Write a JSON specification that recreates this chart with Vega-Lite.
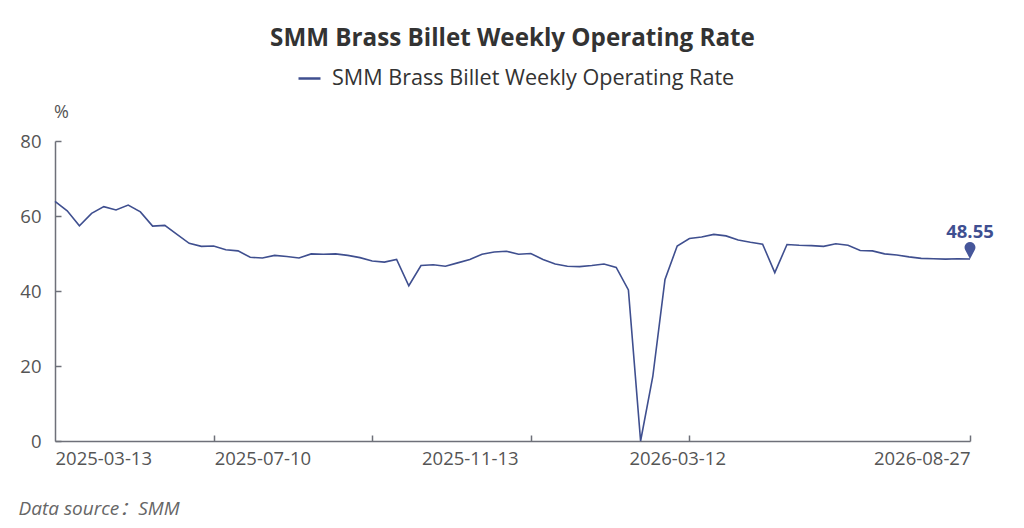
{
  "$schema": "https://vega.github.io/schema/vega-lite/v6.json",
  "width": 915,
  "height": 300,
  "autosize": {"type": "none"},
  "padding": {"left": 55, "top": 141, "right": 54, "bottom": 87},
  "background": "white",
  "config": {"font": "Open Sans", "view": {"stroke": null}},
  "title": {
    "text": "SMM Brass Billet Weekly Operating Rate",
    "fontSize": 24.2,
    "fontWeight": "bold",
    "color": "#333333",
    "anchor": "middle",
    "frame": "group",
    "offset": 15
  },
  "data": {
    "values": [
      {"date": "2025-03-13", "value": 63.9},
      {"date": "2025-03-20", "value": 61.4},
      {"date": "2025-03-27", "value": 57.4},
      {"date": "2025-04-03", "value": 60.7},
      {"date": "2025-04-10", "value": 62.5},
      {"date": "2025-04-17", "value": 61.6},
      {"date": "2025-04-24", "value": 62.9},
      {"date": "2025-05-01", "value": 61.1},
      {"date": "2025-05-08", "value": 57.3},
      {"date": "2025-05-15", "value": 57.5},
      {"date": "2025-05-22", "value": 55.1},
      {"date": "2025-05-29", "value": 52.7},
      {"date": "2025-06-05", "value": 51.9},
      {"date": "2025-06-12", "value": 52.0},
      {"date": "2025-06-19", "value": 51.0},
      {"date": "2025-06-26", "value": 50.7},
      {"date": "2025-07-03", "value": 49.0},
      {"date": "2025-07-10", "value": 48.8},
      {"date": "2025-07-17", "value": 49.5},
      {"date": "2025-07-24", "value": 49.2},
      {"date": "2025-07-31", "value": 48.8},
      {"date": "2025-08-07", "value": 49.9},
      {"date": "2025-08-14", "value": 49.8},
      {"date": "2025-08-21", "value": 49.9},
      {"date": "2025-08-28", "value": 49.5},
      {"date": "2025-09-04", "value": 48.9},
      {"date": "2025-09-11", "value": 48.0},
      {"date": "2025-09-18", "value": 47.7},
      {"date": "2025-09-25", "value": 48.4},
      {"date": "2025-10-09", "value": 41.4},
      {"date": "2025-10-16", "value": 46.8},
      {"date": "2025-10-23", "value": 47.0},
      {"date": "2025-10-30", "value": 46.6},
      {"date": "2025-11-06", "value": 47.5},
      {"date": "2025-11-13", "value": 48.4},
      {"date": "2025-11-20", "value": 49.8},
      {"date": "2025-11-27", "value": 50.4},
      {"date": "2025-12-04", "value": 50.6},
      {"date": "2025-12-11", "value": 49.8},
      {"date": "2025-12-18", "value": 50.0},
      {"date": "2025-12-25", "value": 48.4},
      {"date": "2026-01-01", "value": 47.2},
      {"date": "2026-01-08", "value": 46.6},
      {"date": "2026-01-15", "value": 46.5},
      {"date": "2026-01-22", "value": 46.8},
      {"date": "2026-01-29", "value": 47.2},
      {"date": "2026-02-05", "value": 46.3},
      {"date": "2026-02-12", "value": 40.3},
      {"date": "2026-02-19", "value": 0},
      {"date": "2026-02-26", "value": 17.2},
      {"date": "2026-03-05", "value": 43.1},
      {"date": "2026-03-12", "value": 52.0},
      {"date": "2026-03-19", "value": 54.0},
      {"date": "2026-03-26", "value": 54.4},
      {"date": "2026-04-02", "value": 55.1},
      {"date": "2026-04-09", "value": 54.7},
      {"date": "2026-04-16", "value": 53.6},
      {"date": "2026-04-23", "value": 53.0},
      {"date": "2026-04-30", "value": 52.5},
      {"date": "2026-05-07", "value": 44.9},
      {"date": "2026-05-14", "value": 52.4},
      {"date": "2026-05-21", "value": 52.2},
      {"date": "2026-05-28", "value": 52.1},
      {"date": "2026-06-04", "value": 51.9},
      {"date": "2026-06-11", "value": 52.6},
      {"date": "2026-06-18", "value": 52.2},
      {"date": "2026-06-25", "value": 50.8},
      {"date": "2026-07-02", "value": 50.7},
      {"date": "2026-07-09", "value": 49.9},
      {"date": "2026-07-16", "value": 49.6},
      {"date": "2026-07-23", "value": 49.1},
      {"date": "2026-07-30", "value": 48.7},
      {"date": "2026-08-06", "value": 48.6},
      {"date": "2026-08-13", "value": 48.5},
      {"date": "2026-08-20", "value": 48.6},
      {"date": "2026-08-27", "value": 48.55}
    ]
  },
  "encoding": {
    "x": {
      "field": "date",
      "type": "ordinal",
      "sort": "ascending",
      "scale": {"type": "point", "padding": 0},
      "axis": {
        "values": ["2025-03-13", "2025-06-12", "2025-07-10", "2025-09-11", "2025-11-13", "2025-12-18", "2026-03-12", "2026-03-19", "2026-08-27"],
        "labelExpr": "indexof(['2025-03-13','2025-07-10','2025-11-13','2026-03-12','2026-08-27'], datum.value) >= 0 ? datum.label : ''",
        "labelAngle": 0,
        "labelAlign": {"condition": [{"test": "datum.value === '2025-03-13'", "value": "left"}, {"test": "datum.value === '2026-08-27'", "value": "right"}], "value": "center"},
        "labelFontSize": 18.5,
        "labelColor": "#555555",
        "labelPadding": 14,
        "labelOverlap": false,
        "tickSize": -6,
        "tickWidth": 1.5,
        "tickColor": "#6e7079",
        "tickOpacity": {"condition": {"test": "indexof(['2025-06-12','2025-09-11','2025-12-18','2026-03-19','2026-08-27'], datum.value) >= 0", "value": 1}, "value": 0},
        "domainColor": "#6e7079",
        "domainWidth": 1.5,
        "grid": false,
        "title": "Data source：SMM",
        "titleFont": "'Open Sans', 'Noto Sans CJK SC'",
        "titleFontStyle": "italic",
        "titleFontWeight": "normal",
        "titleFontSize": 19,
        "titleColor": "#666666",
        "titleAlign": "left",
        "titleBaseline": "middle",
        "titleAnchor": "start",
        "titleX": -37,
        "titleY": 67
      }
    },
    "y": {
      "field": "value",
      "type": "quantitative",
      "scale": {"domain": [0, 80]},
      "axis": {
        "values": [0, 20, 40, 60, 80],
        "grid": false,
        "domainColor": "#6e7079",
        "domainWidth": 1.5,
        "tickColor": "#6e7079",
        "tickWidth": 1.5,
        "tickSize": -6,
        "labelFontSize": 18.5,
        "labelColor": "#555555",
        "labelPadding": 20,
        "title": "%",
        "titleAngle": 0,
        "titleX": 6,
        "titleY": -29,
        "titleAlign": "center",
        "titleBaseline": "middle",
        "titleFontWeight": "normal",
        "titleFontSize": 18,
        "titleColor": "#555555"
      }
    }
  },
  "layer": [
    {
      "mark": {"type": "line", "strokeWidth": 1.6},
      "encoding": {
        "color": {
          "datum": "SMM Brass Billet Weekly Operating Rate",
          "scale": {"range": ["#3f4f8f"]},
          "legend": {
            "title": null,
            "orient": "none",
            "legendX": 242,
            "legendY": -75,
            "padding": 0,
            "symbolType": "stroke",
            "symbolSize": 484,
            "symbolStrokeWidth": 2.5,
            "labelFontSize": 21.6,
            "labelColor": "#333333",
            "labelOffset": 10,
            "labelLimit": 700
          }
        }
      }
    },
    {
      "transform": [{"filter": "datum.date === '2026-08-27'"}],
      "mark": {
        "type": "point",
        "shape": "M0,0 L-0.28,-0.52 A0.32,0.32 0 1 1 0.28,-0.52 Z",
        "size": 1156,
        "filled": true,
        "color": "#46569a",
        "opacity": 1
      }
    },
    {
      "transform": [{"filter": "datum.date === '2026-08-27'"}],
      "mark": {
        "type": "text",
        "dy": -27,
        "baseline": "middle",
        "align": "center",
        "fontSize": 18.5,
        "fontWeight": "bold",
        "color": "#3f4f91"
      },
      "encoding": {"text": {"field": "value", "type": "quantitative", "format": ".2f"}}
    }
  ]
}
